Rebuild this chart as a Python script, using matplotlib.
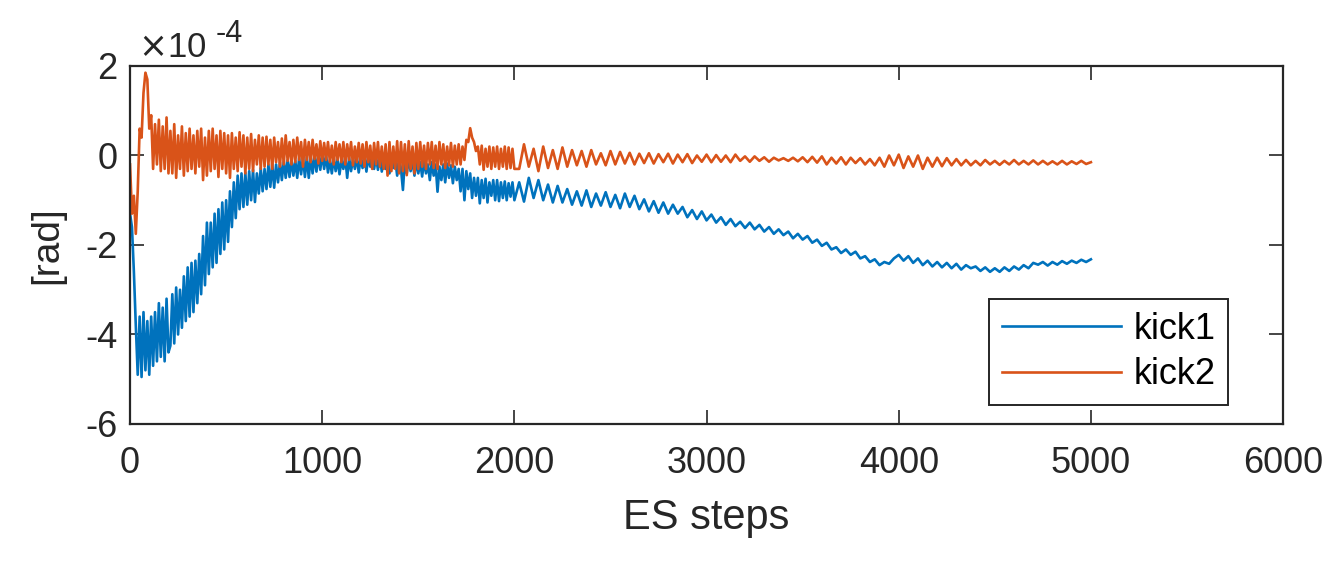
import numpy as np
import matplotlib.pyplot as plt

plt.rcParams['font.family'] = ['Liberation Sans', 'DejaVu Sans']
plt.rcParams['axes.unicode_minus'] = False

# ES step grid: every 10 steps up to 2000, then every 25 steps
steps_early = np.arange(0, 2001, 10)
steps_late = np.arange(2025, 5001, 25)

# values in units of 1e-4 rad
kick1_early = [
    -1.3, -1.6, -2.6, -3.8, -4.9, -3.6, -4.95, -3.5, -4.8, -3.7,
    -4.9, -3.6, -4.7, -3.5, -4.6, -3.3, -4.5, -3.4, -4.6, -3.2, -4.4,
    -4.25, -3.1, -4.2, -2.95, -4.0, -3.0, -3.85, -2.7, -3.7, -2.5,
    -3.6, -2.4, -3.5, -2.35, -3.3, -2.2, -3.1, -1.8, -2.9, -1.5,
    -2.65, -1.5, -2.5, -1.3, -2.4, -1.2, -2.2, -1.05, -2.1, -1.0,
    -1.93, -0.8, -1.6, -0.6, -1.4, -0.45, -1.2, -0.4, -1.15, -0.38,
    -1.1, -0.35, -1.0, -0.32, -1.04, -0.4, -0.85, -0.28, -0.8, -0.3,
    -0.75, -0.2, -0.7, -0.18, -0.72, -0.2, -0.6, -0.15, -0.55, -0.12,
    -0.5, -0.1, -0.48, -0.08, -0.45, -0.12, -0.5, -0.05, -0.42, -0.04,
    -0.48, -0.03, -0.5, -0.02, -0.4, 0.0, -0.36, 0.03, -0.32, 0.05,
    -0.3, 0.02, -0.38, -0.1, -0.4, -0.05, -0.35, -0.08, -0.42, -0.1,
    -0.3, -0.03, -0.5, -0.05, -0.35, -0.08, -0.3, -0.02, -0.38, -0.05,
    -0.28, 0.0, -0.36, -0.02, -0.25, 0.01, -0.3, -0.03, -0.32, 0.0,
    -0.36, 0.01, -0.3, -0.05, -0.4, -0.03, -0.28, -0.08, -0.45, -0.05,
    -0.3, -0.77, -0.1, -0.4, -0.08, -0.35, -0.1, -0.45, -0.12, -0.4,
    -0.15, -0.47, -0.12, -0.4, -0.2, -0.55, -0.15, -0.45, -0.2, -0.81,
    -0.25, -0.55, -0.2, -0.6, -0.18, -0.5, -0.22, -0.62, -0.25, -0.55,
    -0.3, -0.8, -0.3, -1.0, -0.35, -0.75, -0.4, -0.95, -0.5, -0.9,
    -0.5, -1.07, -0.55, -0.95, -0.52, -1.05, -0.6, -0.9, -0.55, -1.0,
    -0.55, -1.02, -0.6, -0.95, -0.58, -1.0, -0.62, -0.92, -0.6, -1.0,
]
kick1_late = [
    -0.6, -1.03, -0.5, -0.95, -0.55, -1.0, -0.65, -1.05,
    -0.68, -1.05, -0.75, -1.1, -0.8, -1.12, -0.78, -1.15,
    -0.85, -1.12, -0.82, -1.15, -0.88, -1.18, -0.85, -1.15,
    -0.9, -1.2, -0.98, -1.25, -1.02, -1.28, -1.05, -1.3,
    -1.1, -1.3, -1.15, -1.38, -1.22, -1.42, -1.25, -1.45,
    -1.32, -1.5, -1.38, -1.55, -1.42, -1.58, -1.48, -1.62,
    -1.5, -1.65, -1.55, -1.7, -1.6, -1.75, -1.65, -1.78,
    -1.7, -1.85, -1.75, -1.88, -1.8, -1.95, -1.88, -2.02,
    -1.95, -2.1, -2.05, -2.18, -2.1, -2.22, -2.15, -2.3,
    -2.25, -2.38, -2.32, -2.45, -2.38, -2.42, -2.3, -2.22,
    -2.35, -2.25, -2.4, -2.3, -2.45, -2.35, -2.48, -2.38,
    -2.5, -2.4, -2.52, -2.42, -2.55, -2.45, -2.52, -2.48,
    -2.58, -2.5, -2.6, -2.52, -2.6, -2.5, -2.58, -2.48,
    -2.55, -2.45, -2.52, -2.4, -2.44, -2.38, -2.46, -2.38,
    -2.44, -2.36, -2.42, -2.35, -2.4, -2.33, -2.38, -2.32,
]

kick2_early = [
    -0.2, -1.3, -0.9, -1.75, -0.8, 0.6, 0.4, 1.4, 1.85, 1.7,
    0.6, 0.9, -0.3, 0.7, -0.2, 0.8, -0.35, 0.65, -0.3, 0.85, -0.4,
    0.55, -0.4, 0.7, -0.5, 0.45, -0.3, 0.65, -0.45, 0.5, -0.35,
    0.6, -0.3, 0.45, -0.4, 0.55, -0.25, 0.6, -0.55, 0.4, -0.45,
    0.55, -0.35, 0.6, -0.3, 0.45, -0.48, 0.55, -0.3, 0.5, -0.4,
    0.45, -0.5, 0.5, -0.3, 0.4, -0.35, 0.52, -0.25, 0.45, -0.4,
    0.4, -0.3, 0.48, -0.35, 0.35, -0.2, 0.45, -0.3, 0.4, -0.25,
    0.42, -0.2, 0.35, -0.3, 0.4, -0.15, 0.3, -0.25, 0.38, -0.2,
    0.45, -0.12, 0.3, -0.2, 0.35, -0.15, 0.4, -0.1, 0.3, -0.25,
    0.35, -0.1, 0.3, -0.15, 0.35, -0.08, 0.25, -0.18, 0.32, -0.12,
    0.28, -0.1, 0.3, -0.15, 0.22, -0.2, 0.3, -0.1, 0.25, -0.15,
    0.3, -0.2, 0.25, -0.1, 0.3, -0.22, 0.2, -0.15, 0.28, -0.18,
    0.25, -0.25, 0.3, -0.15, 0.22, -0.3, 0.28, -0.2, 0.3, -0.25,
    0.2, -0.3, 0.25, -0.45, 0.3, -0.35, 0.2, -0.3, 0.32, -0.4,
    0.3, -0.35, 0.25, -0.44, 0.32, -0.3, 0.2, -0.4, 0.28, -0.3,
    0.3, -0.25, 0.22, -0.3, 0.28, -0.2, 0.3, -0.28, 0.22, -0.3,
    0.3, -0.2, 0.25, -0.28, 0.2, -0.22, 0.28, -0.25, 0.22, -0.2,
    0.25, -0.2, 0.2, -0.1, 0.35, 0.3, 0.61, 0.4, 0.3, 0.1,
    0.2, -0.2, 0.22, -0.32, 0.15, -0.25, 0.2, -0.3, 0.18, -0.25,
    0.2, -0.3, 0.15, -0.25, 0.2, -0.3, 0.18, -0.28, 0.15, -0.3,
]
kick2_late = [
    -0.3, 0.25, -0.25, 0.15, -0.35, 0.2, -0.28, 0.12,
    -0.3, 0.18, -0.25, 0.12, -0.22, 0.1, -0.25, 0.12,
    -0.2, 0.05, -0.22, 0.1, -0.2, 0.08, -0.18, 0.06,
    -0.2, 0.04, -0.17, 0.05, -0.18, 0.03, -0.15, 0.04,
    -0.18, 0.02, -0.15, 0.03, -0.17, 0.0, -0.14, 0.02,
    -0.15, 0.01, -0.14, 0.0, -0.15, 0.02, -0.12, -0.02,
    -0.14, -0.02, -0.12, -0.04, -0.14, -0.05, -0.11, -0.06,
    -0.12, -0.05, -0.13, -0.04, -0.15, -0.03, -0.16, -0.02,
    -0.2, -0.05, -0.18, -0.04, -0.2, -0.05, -0.17, -0.06,
    -0.2, -0.08, -0.22, -0.05, -0.25, 0.0, -0.22, 0.02,
    -0.28, -0.02, -0.25, 0.0, -0.3, -0.05, -0.25, -0.05,
    -0.24, -0.06, -0.22, -0.08, -0.22, -0.1, -0.22, -0.12,
    -0.22, -0.1, -0.2, -0.12, -0.21, -0.12, -0.2, -0.1,
    -0.2, -0.12, -0.2, -0.11, -0.2, -0.12, -0.2, -0.13,
    -0.2, -0.12, -0.2, -0.13, -0.19, -0.12, -0.19, -0.15,
]

steps = np.concatenate([steps_early, steps_late])
kick1 = np.array(kick1_early + kick1_late)
kick2 = np.array(kick2_early + kick2_late)

fig = plt.figure(figsize=(13.31, 5.63), dpi=100)
ax = fig.add_axes([0.0977, 0.2469, 0.8663, 0.6359])

ax.plot(steps, kick1, color='#0072BD', lw=1.9, label='kick1')
ax.plot(steps, kick2, color='#D95319', lw=1.9, label='kick2')

ax.set_xlim(0, 6000)
ax.set_ylim(-6, 2)
ax.set_xticks(np.arange(0, 6001, 1000))
ax.set_yticks(np.arange(-6, 3, 2))
ax.tick_params(direction='in', length=10, width=1.2, top=True, right=True,
               labelsize=26, colors='#262626')
ax.tick_params(axis='x', pad=16)
ax.tick_params(axis='y', pad=9)
for s in ax.spines.values():
    s.set_linewidth(1.6)
    s.set_color('#262626')

ax.set_xlabel('ES steps', fontsize=30, color='#262626', labelpad=12)
ax.set_ylabel('[rad]', fontsize=28, color='#262626', labelpad=14)

# MATLAB-style exponent label above the y axis
ax.text(0.007, 1.025, r'$\times$10', transform=ax.transAxes,
        fontsize=25, color='#262626', ha='left', va='baseline')
ax.annotate('-4', xy=(0.007, 1.025), xycoords='axes fraction', xytext=(56, 11),
            textcoords='offset points', fontsize=22, color='#262626',
            ha='left', va='baseline')

leg = ax.legend(loc='lower right', bbox_to_anchor=(0.9523, 0.053), borderaxespad=0,
                fontsize=26, handlelength=3.3, handletextpad=0.35, fancybox=False,
                framealpha=1, edgecolor='#262626', borderpad=0.35, labelspacing=0.3)
leg.get_frame().set_linewidth(1.4)

fig.savefig('out.png', dpi=100)
